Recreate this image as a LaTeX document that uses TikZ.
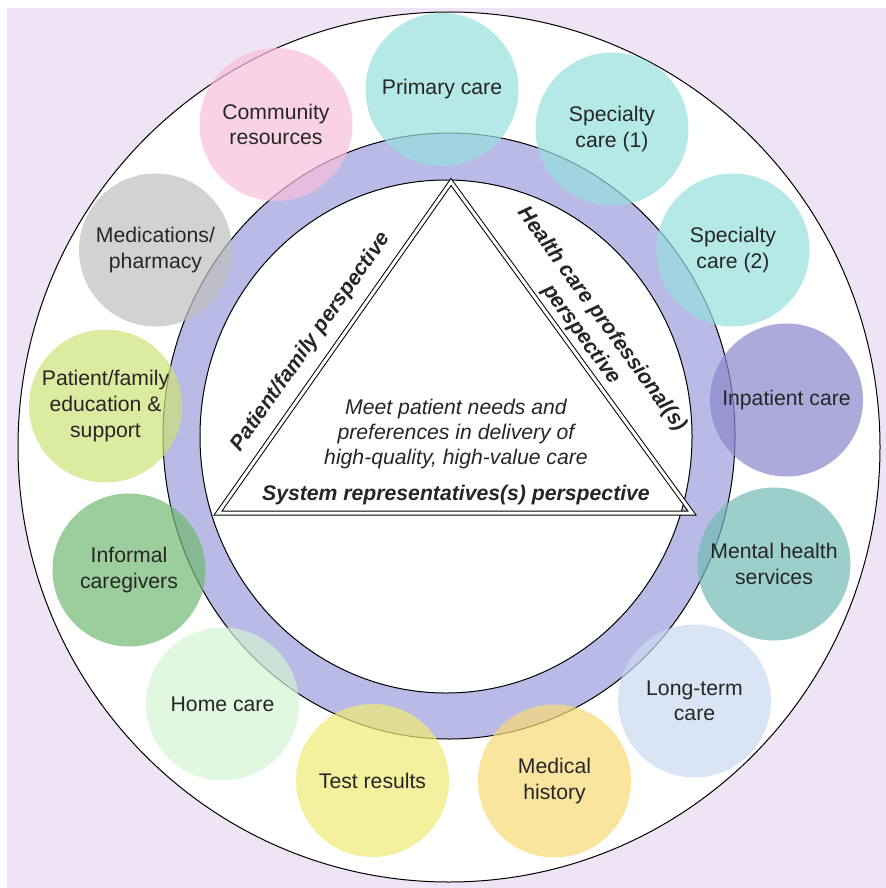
\documentclass[tikz,border=0pt]{standalone}
\usepackage{fontspec}
\setmainfont{Liberation Sans}
\definecolor{bgcol}{RGB}{239,227,246}
\definecolor{ringcol}{RGB}{186,186,230}
\definecolor{cyancol}{RGB}{149,224,222}
\definecolor{pinkcol}{RGB}{248,191,219}
\definecolor{graycol}{RGB}{192,192,192}
\definecolor{limecol}{RGB}{205,227,119}
\definecolor{greencol}{RGB}{114,184,114}
\definecolor{mintcol}{RGB}{211,244,211}
\definecolor{yellowcol}{RGB}{242,235,117}
\definecolor{orangecol}{RGB}{249,218,117}
\definecolor{bluecol}{RGB}{202,219,242}
\definecolor{tealcol}{RGB}{114,186,181}
\definecolor{violetcol}{RGB}{138,135,204}

\begin{document}
\begin{tikzpicture}[x=0.5pt, y=-0.5pt,
	every node/.style={font=\fontsize{10.6}{12.8}\selectfont, text=black!85, align=center},
	sat/.style={circle, minimum size=76.5pt, inner sep=0pt, fill opacity=0.7, text opacity=1},
	edge/.style={line width=0.5pt, double, double distance=1.5pt}]

		\useasboundingbox (0,0) rectangle (886,888);
		\fill[bgcol] (7,8) rectangle (886,888);

		% OUTER CIRCLE AND RING
		\filldraw[fill=white, line width=0.5pt] (449,447) ellipse [x radius=431, y radius=435];
		\fill[ringcol, even odd rule] (449,436) ellipse [x radius=286, y radius=303]
			(446,436.5) ellipse [x radius=246, y radius=256.5];
		\draw[line width=0.5pt] (449,436) ellipse [x radius=286, y radius=303];
		\draw[line width=0.5pt] (446,436.5) ellipse [x radius=246, y radius=256.5];

		% TRIANGLE
		\coordinate (apex) at (451,182);
		\coordinate (left) at (218,513);
		\coordinate (right) at (692,513);
		\draw[edge] (apex) -- (left) -- (right) -- cycle;

		\node[rotate=54.86] (patient) at (311,342) {\bfseries\itshape Patient/family perspective};
		\node[rotate=-53.94] (prof) at (591.5,327) {\bfseries\itshape Health care professional(s)\\\bfseries\itshape perspective};
		\node (system) at (456,495) {\bfseries\itshape System representatives(s) perspective};
		\node[font=\fontsize{10.6}{12.3}\selectfont] (goal) at (456,434) {\itshape Meet patient needs and\\\itshape preferences in delivery of\\\itshape high-quality, high-value care};

		% CIRCLES AROUND
		\node[sat, fill=cyancol] (primary) at (442,89.5) {Primary care};
		\node[sat, fill=cyancol] (spec1) at (612,129) {Specialty\\care (1)};
		\node[sat, fill=cyancol] (spec2) at (733,250) {Specialty\\care (2)};
		\node[sat, fill=violetcol] (inpatient) at (786.5,400) {Inpatient care};
		\node[sat, fill=tealcol] (mental) at (774,564) {Mental health\\services};
		\node[sat, fill=bluecol] (longterm) at (694.5,701) {Long-term\\care};
		\node[sat, fill=orangecol] (history) at (554.5,781) {Medical\\history};
		\node[sat, fill=yellowcol] (tests) at (372.5,780.5) {Test results};
		\node[sat, fill=mintcol] (home) at (222.5,704) {Home care};
		\node[sat, fill=greencol] (informal) at (129,570) {Informal\\caregivers};
		\node[sat, fill=limecol] (education) at (105.5,406) {Patient/family\\education \&\\support};
		\node[sat, fill=graycol] (meds) at (155.5,250) {Medications/\\pharmacy};
		\node[sat, fill=pinkcol] (community) at (276,124.5) {Community\\resources};
	\end{tikzpicture}
\end{document}
